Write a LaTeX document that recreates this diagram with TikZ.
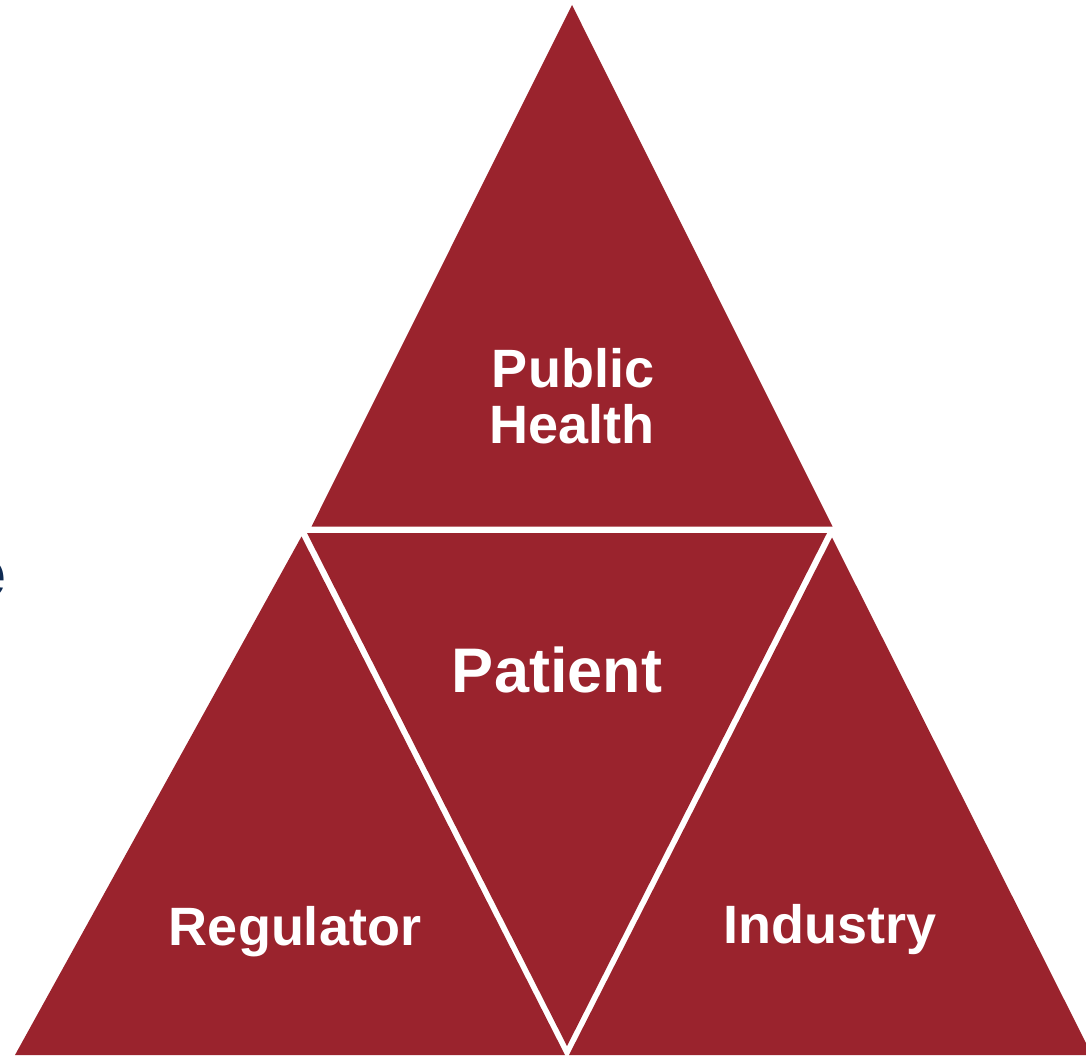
\documentclass[tikz,border=0pt]{standalone}
\usepackage{fontspec}
\setmainfont{Liberation Sans}
\definecolor{wine}{HTML}{9A232D}
\definecolor{navy}{HTML}{0E2A52}
\begin{document}
\begin{tikzpicture}[x=1pt,y=-1pt,
  piece/.style={fill=wine,draw=none},
  lbl/.style={text=white,font=\bfseries\fontsize{54}{57}\selectfont,anchor=base,inner sep=0pt,align=center}]
\useasboundingbox (0,0) rectangle (1086,1057);
% pieces
\fill[piece] (572,5) -- (832.5,526.5) -- (311.5,526.5) -- cycle;
\fill[piece] (307,533) -- (827,533) -- (567,1046) -- cycle;
\fill[piece] (301.5,536.5) -- (565,1055) -- (15,1055) -- cycle;
\fill[piece] (832,537.5) -- (1092,1055) -- (569,1055) -- cycle;
% labels
\node[lbl] (ph1) at (573,387) {Public};
\node[lbl] (ph2) at (572,443) {Health};
\node[lbl,font=\bfseries\fontsize{63}{66}\selectfont] (pat) at (557,692) {Patient};
\node[lbl] (reg) at (295,945) {Regulator};
\node[lbl] (ind) at (830,943) {Industry};
% cropped letter at left edge
\node[text=navy,font=\bfseries\fontsize{70}{72}\selectfont,anchor=base east,inner sep=0pt] (frag) at (6.5,597) {e};
\end{tikzpicture}
\end{document}
